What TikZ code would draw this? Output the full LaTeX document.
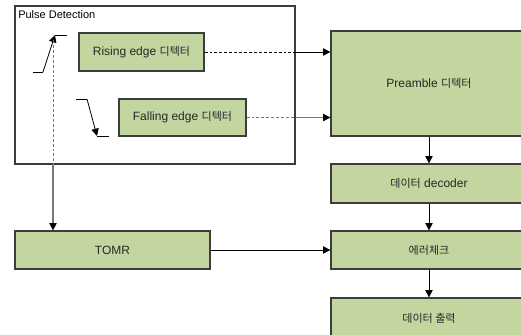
\documentclass[tikz,border=0pt]{standalone}
\usepackage{fontspec}
\setmainfont{Liberation Sans}
\newfontfamily\kr[Scale=0.92]{Noto Sans CJK KR}
\usetikzlibrary{arrows.meta}
\definecolor{boxfill}{RGB}{196,214,160}
\definecolor{boxline}{RGB}{60,60,60}
\definecolor{grayline}{RGB}{120,120,120}
\tikzset{
  blk/.style={draw=boxline, line width=0.9pt, fill=boxfill, rectangle, inner sep=0pt,
    font=\fontsize{9}{11}\selectfont, text=black!85},
  arr/.style={-{Triangle[length=5.5pt,width=5.5pt,color=black]}, line width=0.6pt},
  dsh/.style={dash pattern=on 2.2pt off 1.5pt, line width=0.6pt},
}
\begin{document}
\begin{tikzpicture}[x=0.75pt,y=-0.75pt]
\useasboundingbox (0,0) rectangle (521,335);
\begin{scope}
\clip (0,0) rectangle (521,335);
% Pulse detection frame
\node[draw=boxline, line width=0.8pt, minimum width=280*0.75pt, minimum height=158*0.75pt, inner sep=0pt] (pd) at (155,85) {};
\node[anchor=north west, inner sep=0pt, font=\fontsize{8.25}{10}\selectfont] (pdt) at (18,10) {Pulse Detection};
% boxes
\node[blk, minimum width=125*0.75pt, minimum height=38*0.75pt] (rise) at (141.5,52) {Rising edge {\kr 디텍터}};
\node[blk, minimum width=127*0.75pt, minimum height=37*0.75pt] (fall) at (182.5,117.5) {Falling edge {\kr 디텍터}};
\node[blk, minimum width=196*0.75pt, minimum height=105*0.75pt] (pre) at (429,83.5) {Preamble {\kr 디텍터}};
\node[blk, minimum width=196*0.75pt, minimum height=39*0.75pt] (dec) at (429,183.5) {{\kr 데이터} decoder};
\node[blk, minimum width=196*0.75pt, minimum height=38*0.75pt] (err) at (429,250) {{\kr 에러체크}};
\node[blk, minimum width=196*0.75pt, minimum height=40*0.75pt] (out) at (429,318) {{\kr 데이터 출력}};
\node[blk, minimum width=195*0.75pt, minimum height=38*0.75pt] (tomr) at (112.5,250) {TOMR};
% edge glyphs
\coordinate (r1) at (33,72);
\coordinate (r2) at (43,72);
\coordinate (r3) at (55,35);
\coordinate (r4) at (67,35);
\draw[line width=0.6pt] (r1) -- (r2);
\draw[arr] (r2) -- (r3);
\draw[line width=0.6pt] (r3) -- (r4);
\coordinate (f1) at (76,99);
\coordinate (f2) at (87,99);
\coordinate (f3) at (97,136);
\coordinate (f4) at (109,136);
\draw[line width=0.6pt] (f1) -- (f2);
\draw[arr] (f2) -- (f3);
\draw[line width=0.6pt] (f3) -- (f4);
% connectors
\coordinate (rb) at (rise.east -| pd.east);
\coordinate (fb) at (fall.east -| pd.east);
\draw[dsh] (rise.east) -- (rb);
\draw[arr] (rb) -- (rise.east -| pre.west);
\draw[dsh, grayline] (fall.east) -- (fb);
\draw[arr, grayline] (fb) -- (fall.east -| pre.west);
\draw[arr] (pre.south) -- (dec.north);
\draw[arr] (dec.south) -- (err.north);
\draw[arr] (err.south) -- (out.north);
\draw[arr] (tomr.east) -- (err.west);
\coordinate (vt) at (53,40);
\coordinate (vb) at (53,164);
\draw[dsh, grayline] (vt) -- (vb);
\draw[arr, grayline, line width=0.9pt] (vb) -- (vb |- tomr.north);
\end{scope}
\end{tikzpicture}
\end{document}
